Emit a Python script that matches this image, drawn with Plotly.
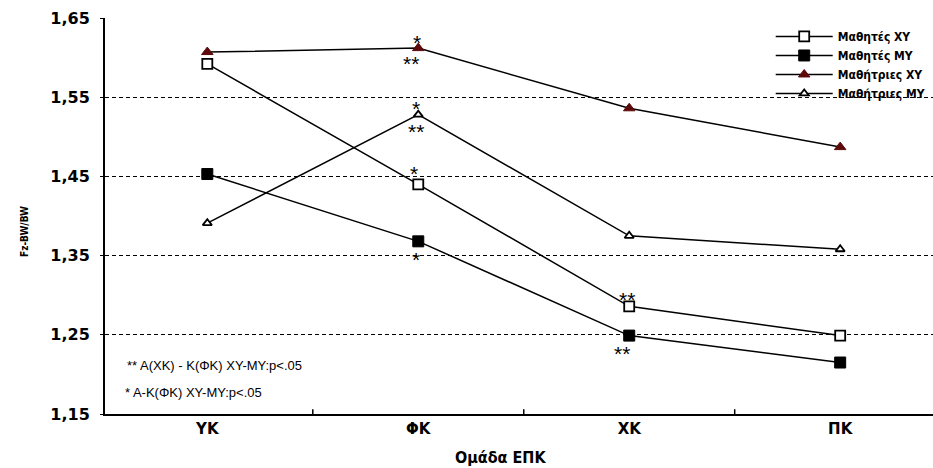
import plotly.graph_objects as go

# Ομάδες ΕΠΚ στον άξονα x
categories = ["ΥΚ", "ΦΚ", "ΧΚ", "ΠΚ"]

# Fz-BW/BW ανά ομάδα
mathites_xy = [1.592, 1.440, 1.286, 1.249]
mathites_my = [1.453, 1.368, 1.249, 1.215]
mathitries_xy = [1.607, 1.612, 1.536, 1.487]
mathitries_my = [1.391, 1.528, 1.375, 1.358]

y_ticks = [1.15, 1.25, 1.35, 1.45, 1.55, 1.65]

BOLD_WIDE = "DejaVu Sans, Liberation Sans, Arial"
NARROW = "Liberation Sans Narrow, DejaVu Sans Condensed, Liberation Sans, Arial"
PLAIN = "Liberation Sans, Arial"

series = [
    ("Μαθητές ΧΥ", mathites_xy, dict(symbol="square", size=10, color="white",
                                      line=dict(color="black", width=1.8))),
    ("Μαθητές ΜΥ", mathites_my, dict(symbol="square", size=11, color="black",
                                      line=dict(color="black", width=1))),
    ("Μαθήτριες ΧΥ", mathitries_xy, dict(symbol="triangle-up", size=10, color="#5c0a0a",
                                          line=dict(color="#5c0a0a", width=1))),
    ("Μαθήτριες ΜΥ", mathitries_my, dict(symbol="triangle-up", size=8, color="white",
                                          line=dict(color="black", width=1.8))),
]

fig = go.Figure()
for name, vals, marker in series:
    fig.add_trace(go.Scatter(
        x=list(range(len(categories))), y=vals, name=name, mode="lines+markers",
        line=dict(color="black", width=1.5), marker=marker,
    ))

# Αστερίσκοι σημαντικότητας: (κατηγορία, σειρά, κείμενο, μετατόπιση x, μετατόπιση y σε px)
stars = [
    (1, mathitries_xy, "*", -1, 6),
    (1, mathitries_xy, "**", -7, -15),
    (1, mathitries_my, "*", -2, 6),
    (1, mathitries_my, "**", -2, -17),
    (1, mathites_xy, "*", -4, 11),
    (1, mathites_my, "*", -2, -18),
    (2, mathites_xy, "**", -2, 7),
    (2, mathites_my, "**", -7, -18),
]
for xi, vals, txt, dx, dy in stars:
    fig.add_annotation(
        x=xi, y=vals[xi], text=txt, showarrow=False, xshift=dx, yshift=dy,
        font=dict(family=PLAIN, size=21, color="black"),
    )

# Σημειώσεις σημαντικότητας κάτω αριστερά
notes = ["** Α(ΧΚ) - Κ(ΦΚ) ΧΥ-ΜΥ:p<.05", "* Α-Κ(ΦΚ) ΧΥ-ΜΥ:p<.05"]
note_x = [125, 123]
note_y = [365, 392]
for note, px, py in zip(notes, note_x, note_y):
    fig.add_annotation(
        xref="paper", yref="paper", x=(px - 105) / 828, y=(414 - py) / 396,
        xanchor="left", yanchor="middle", text=note, showarrow=False,
        font=dict(family=PLAIN, size=13, color="black"),
    )

# Τίτλοι αξόνων
fig.add_annotation(
    xref="paper", yref="paper", x=(500 - 105) / 828, y=(414 - 457) / 396,
    xanchor="center", yanchor="middle", text="Ομάδα ΕΠΚ", showarrow=False,
    font=dict(family=NARROW, size=16, color="black", weight="bold"),
)
fig.add_annotation(
    xref="paper", yref="paper", x=(24 - 105) / 828, y=(414 - 232) / 396,
    xanchor="center", yanchor="middle", text="Fz-BW/BW", showarrow=False, textangle=-90,
    font=dict(family=NARROW, size=10, color="black", weight="bold"),
)

fig.update_layout(
    width=933, height=468,
    margin=dict(l=105, r=0, t=18, b=54),
    plot_bgcolor="white", paper_bgcolor="white",
    separators=", ",
    showlegend=True,
    legend=dict(
        x=0.804, y=0.99, xanchor="left", yanchor="top",
        bgcolor="rgba(0,0,0,0)", itemwidth=57, tracegroupgap=0,
        font=dict(family=NARROW, size=12, color="black", weight="bold"),
    ),
    xaxis=dict(
        range=[-0.485, 3.44],
        tickmode="array", tickvals=list(range(len(categories))), ticktext=categories,
        showgrid=False, zeroline=False,
        showline=True, linecolor="black", linewidth=2,
        ticks="",
        tickfont=dict(family=BOLD_WIDE, size=15, color="black", weight="bold"),
    ),
    yaxis=dict(
        range=[1.15, 1.65],
        tickmode="array", tickvals=y_ticks, tickformat=".2f",
        showgrid=True, gridcolor="black", gridwidth=1, griddash="4px,3px",
        zeroline=False,
        showline=True, linecolor="black", linewidth=2,
        ticks="outside", ticklen=3, tickcolor="black", ticklabelstandoff=7,
        tickfont=dict(family=BOLD_WIDE, size=16, color="black", weight="bold"),
    ),
)

# μικρές γραμμές στα όρια των κατηγοριών του άξονα x
for b in [0.5, 1.5, 2.5]:
    fig.add_shape(type="line", xref="x", yref="paper", x0=b, x1=b, y0=0, y1=0.012,
                  line=dict(color="black", width=1.5))

fig.write_html("out.html")
